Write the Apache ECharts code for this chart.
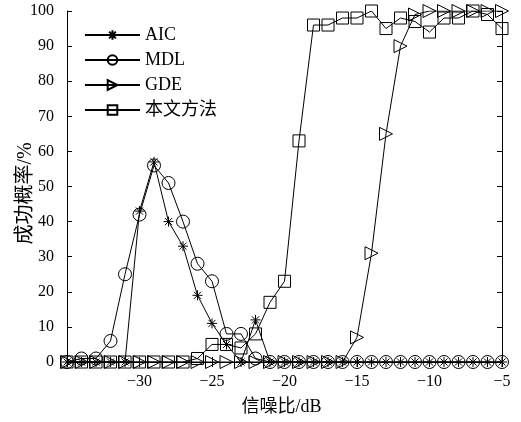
<!DOCTYPE html>
<html>
<head>
<meta charset="utf-8">
<script src="https://cdn.jsdelivr.net/npm/echarts@6/dist/echarts.min.js"></script>
<style>html,body{margin:0;padding:0;background:#fff;}#c{width:521px;height:422px;}</style>
</head>
<body>
<div id="c"></div>
<script>
const snr = [-35,-34,-33,-32,-31,-30,-29,-28,-27,-26,-25,-24,-23,-22,-21,-20,-19,-18,-17,-16,-15,-14,-13,-12,-11,-10,-9,-8,-7,-6,-5];
const aic = [0,0,0,0,0,43,57,40,33,19,11,5,0,12,0,0,0,0,0,0,0,0,0,0,0,0,0,0,0,0,0];
const mdl = [0,1,1,6,25,42,56,51,40,28,23,8,8,1,0,0,0,0,0,0,0,0,0,0,0,0,0,0,0,0,0];
const gde = [0,0,0,0,0,0,0,0,0,0,0,0,0,0,0,0,0,0,0,0,7,31,65,90,99,100,100,100,100,100,100];
const ours = [0,0,0,0,0,0,0,0,0,1,5,5,4,8,17,23,63,96,96,98,98,100,95,98,97,94,98,98,100,99,95];
const seriesNames = ['AIC','MDL','GDE','本文方法'];
const xTicks = [-35,-30,-25,-20,-15,-10,-5];
const yTicks = [0,10,20,30,40,50,60,70,80,90,100];

const serif = "'Liberation Serif','Times New Roman','Noto Sans CJK SC',serif";
const pair = arr => snr.map((x,i)=>[x,arr[i]]);
const asterisk = 'path://M5,0L5,10M0,5L10,5M1.46,1.46L8.54,8.54M1.46,8.54L8.54,1.46';

function mk(name, data, symbol, size, rot){
  return {
    name, type:'line', data:pair(data), symbol, symbolSize:size, symbolRotate:rot||0,
    showAllSymbol:true, animation:false,
    lineStyle:{color:'#000', width:1},
    itemStyle:{color:'none', borderColor:'#000', borderWidth:1},
    emphasis:{disabled:true}
  };
}
const fmtMinus = v => v===xTicks[0] ? '' : String(v).replace('-', '\u2212');

const chart = echarts.init(document.getElementById('c'), null, {renderer:'canvas'});
chart.setOption({
  backgroundColor:'#fff',
  animation:false,
  grid:{left:67, right:19, top:11, bottom:60, containLabel:false, outerBoundsMode:'none'},
  legend:{
    data:seriesNames, orient:'vertical', left:79, top:21,
    itemWidth:55, itemHeight:12, itemGap:7,
    textStyle:{fontFamily:serif, fontSize:18, color:'#000'}
  },
  xAxis:[{
    type:'value', min:-35, max:-5, interval:5,
    name:'信噪比/dB', nameLocation:'middle', nameGap:36, nameMoveOverlap:false,
    nameTextStyle:{fontFamily:serif, fontSize:18, color:'#000', padding:[0,6,0,0]},
    axisLine:{lineStyle:{color:'#000', width:1}},
    axisTick:{inside:true, length:5, lineStyle:{color:'#000'}},
    axisLabel:{fontFamily:serif, fontSize:16, color:'#000', margin:12, formatter:fmtMinus},
    splitLine:{show:false}
  },{
    type:'value', position:'top', min:-35, max:-5, interval:5,
    axisLine:{lineStyle:{color:'#000', width:1}},
    axisTick:{inside:true, length:5, lineStyle:{color:'#000'}},
    axisLabel:{show:false}, splitLine:{show:false}
  }],
  yAxis:[{
    type:'value', min:0, max:100, interval:10,
    name:'成功概率/%', nameLocation:'middle', nameGap:31, nameRotate:90, nameMoveOverlap:false,
    nameTextStyle:{fontFamily:serif, fontSize:20, color:'#000', padding:[0,14,0,0]},
    axisLine:{show:true, lineStyle:{color:'#000', width:1}},
    axisTick:{show:true, inside:true, length:5, lineStyle:{color:'#000'}},
    axisLabel:{fontFamily:serif, fontSize:16, color:'#000', margin:13},
    splitLine:{show:false}
  },{
    type:'value', position:'right', min:0, max:100, interval:10,
    axisLine:{show:true, lineStyle:{color:'#000', width:1}},
    axisTick:{show:true, inside:true, length:5, lineStyle:{color:'#000'}},
    axisLabel:{show:false}, splitLine:{show:false}
  }],
  series:[
    mk('AIC', aic, asterisk, 10),
    mk('MDL', mdl, 'circle', 13),
    mk('GDE', gde, 'triangle', 13, -90),
    mk('本文方法', ours, 'rect', 12)
  ]
});
</script>
</body>
</html>
